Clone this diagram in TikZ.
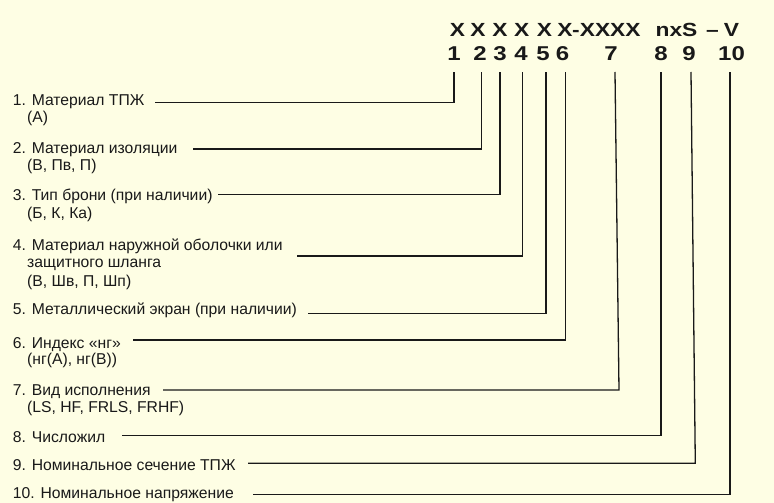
\documentclass[tikz,border=0pt]{standalone}
\usepackage{fontspec}
\setmainfont{Liberation Sans}
\newfontfamily\codefont[FakeStretch=1.2]{Liberation Sans}
\definecolor{bg}{RGB}{254,254,228}
\definecolor{ink}{RGB}{25,25,25}
\begin{document}
\begin{tikzpicture}[x=1pt,y=-1pt,
  lab/.style={anchor=base west, inner sep=0, font=\fontsize{15.7}{19}\selectfont, text=ink},
  codech/.style={anchor=base, inner sep=0, font=\codefont\fontsize{19}{22}\selectfont\bfseries, text=ink},
  num/.style={anchor=base, inner sep=0, font=\codefont\fontsize{20}{23}\selectfont\bfseries, text=ink},
  conn/.style={draw=ink, line width=1.3pt}]
\fill[bg] (0,0) rectangle (774,503);
\useasboundingbox (0,0) rectangle (774,503);

% code row
\node[codech] (x1) at (457.5,36.7) {X};
\node[codech] (x2) at (478,36.7) {X};
\node[codech] (x3) at (500,36.7) {X};
\node[codech] (x4) at (521.7,36.7) {X};
\node[codech] (x5) at (544.5,36.7) {X};
\node[codech] (x6) at (565,36.7) {X};
\node[codech, anchor=base west] (x7) at (572,36.7) {-XXXX};
\node[codech] (x8) at (676.5,36.7) {nxS};
\node[codech] (x9) at (712.5,36.7) {–};
\node[codech] (x10) at (731.5,36.7) {V};

% digit row
\node[num] (d1) at (454,60) {1};
\node[num] (d2) at (480,60) {2};
\node[num] (d3) at (500,60) {3};
\node[num] (d4) at (521,60) {4};
\node[num] (d5) at (543,60) {5};
\node[num] (d6) at (562.5,60) {6};
\node[num] (d7) at (611,60) {7};
\node[num] (d8) at (661,60) {8};
\node[num] (d9) at (689,60) {9};
\node[num] (d10) at (731.5,60) {10};

% labels
\node[lab] (l1) at (12.7,105) {1. Материал ТПЖ};
\node[lab] (l1b) at (27,122) {(А)};
\node[lab] (l2) at (12.7,153) {2. Материал изоляции};
\node[lab] (l2b) at (27,170) {(В, Пв, П)};
\node[lab] (l3) at (12.7,200) {3. Тип брони (при наличии)};
\node[lab] (l3b) at (27,218) {(Б, К, Ка)};
\node[lab] (l4) at (12.7,250) {4. Материал наружной оболочки или};
\node[lab] (l4b) at (27,267) {защитного шланга};
\node[lab] (l4c) at (27,286) {(В, Шв, П, Шп)};
\node[lab] (l5) at (12.7,314) {5. Металлический экран (при наличии)};
\node[lab] (l6) at (12.7,348) {6. Индекс «нг»};
\node[lab] (l6b) at (27,364) {(нг(А), нг(В))};
\node[lab] (l7) at (12.7,395) {7. Вид исполнения};
\node[lab] (l7b) at (27,412) {(LS, HF, FRLS, FRHF)};
\node[lab] (l8) at (12.7,442) {8. Числожил};
\node[lab] (l9) at (12.7,470) {9. Номинальное сечение ТПЖ};
\node[lab] (l10) at (12.7,498) {10. Номинальное напряжение};

% connector coordinates
\coordinate (s1) at (155,102.7);  \coordinate (c1) at (454,102.7);  \coordinate (t1) at (454,72);
\coordinate (s2) at (193,149);    \coordinate (c2) at (481.3,149);  \coordinate (t2) at (481.3,72);
\coordinate (s3) at (218,194.3);  \coordinate (c3) at (500,194.3);  \coordinate (t3) at (500,72);
\coordinate (s4) at (297,256);    \coordinate (c4) at (522.7,256);  \coordinate (t4) at (522.7,72);
\coordinate (s5) at (308,313.3);  \coordinate (c5) at (546,313.3);  \coordinate (t5) at (546,72);
\coordinate (s6) at (133,340);    \coordinate (c6) at (565.3,340);  \coordinate (t6) at (565.3,72);
\coordinate (s7) at (163,390);    \coordinate (c7) at (619,390);    \coordinate (t7) at (615,72);
\coordinate (s8) at (122,435.7);  \coordinate (c8) at (661,435.7);  \coordinate (t8) at (661,72);
\coordinate (s9) at (248,463.3);  \coordinate (c9) at (695.3,463.3);\coordinate (t9) at (691,72);
\coordinate (s10) at (253,494.3); \coordinate (c10) at (730,494.3); \coordinate (t10) at (730,72);

\foreach \i in {1,...,10}{
  \draw[conn] (s\i) -- (c\i) -- (t\i);
}
\end{tikzpicture}
\end{document}
